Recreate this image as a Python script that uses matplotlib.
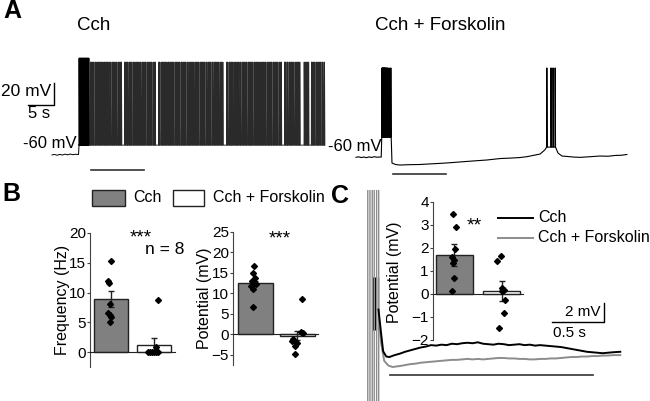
import matplotlib
matplotlib.use('Agg')
import matplotlib.pyplot as plt
from matplotlib.patches import Rectangle
from matplotlib.lines import Line2D

plt.rcParams['font.family'] = ['Liberation Sans', 'DejaVu Sans']

# ---------------- data ----------------
# A, left: Cch trace (time in s, membrane potential in mV)
cch_pre_t = [0.0, 0.5, 1.0, 1.5, 2.0, 2.5, 3.0, 3.5, 4.0, 4.5, 5.1]
cch_pre_v = [-60.4, -60.0, -60.7, -59.9, -60.5, -59.7, -60.3, -59.6, -60.2, -59.8, -60.0]
cch_burst_t = [5.25, 5.4, 5.55, 5.7, 5.85, 6.0, 6.15, 6.3, 6.45, 6.6, 6.75, 6.9, 7.05]
cch_spike_t = [
    7.4, 7.6, 7.85, 8.0, 8.3, 8.45, 8.7, 8.95, 9.1, 9.4,
    9.55, 9.8, 10.05, 10.2, 10.5, 10.7, 10.85, 11.15, 11.3, 11.6,
    11.8, 12.0, 12.3, 12.45, 12.75, 12.95, 13.2, 13.35, 14.0, 14.2,
    14.45, 14.6, 14.9, 15.1, 15.3, 15.6, 15.75, 16.0, 16.25, 16.4,
    16.7, 16.9, 17.1, 17.4, 17.55, 17.85, 18.0, 18.3, 18.5, 18.7,
    19.0, 19.15, 19.45, 19.65, 19.85, 20.55, 20.7, 21.0, 21.2, 21.4,
    21.7, 21.85, 22.1, 22.35, 22.5, 22.8, 23.0, 23.25, 23.4, 23.7,
    23.9, 24.1, 24.4, 24.55, 24.85, 25.0, 25.3, 25.5, 25.7, 26.0,
    26.15, 26.45, 26.6, 26.9, 27.1, 27.3, 27.6, 27.75, 28.05, 28.2,
    28.5, 28.7, 28.9, 29.2, 29.35, 29.65, 29.8, 30.1, 30.3, 30.5,
    30.8, 30.95, 31.25, 31.4, 31.7, 31.9, 32.1, 32.4, 32.55, 32.85,
    33.6, 33.8, 34.1, 34.25, 34.55, 34.7, 35.0, 35.2, 35.4, 35.7,
    35.85, 36.15, 36.3, 36.6, 36.8, 37.0, 37.3, 37.45, 37.75, 37.9,
    38.2, 38.4, 38.6, 38.9, 39.05, 39.35, 39.5, 39.8, 40.0, 40.2,
    40.5, 40.65, 40.95, 41.1, 41.4, 41.6, 41.8, 42.1, 42.25, 42.55,
    42.7, 43.0, 43.2, 43.4, 43.7, 43.85, 44.1, 44.75, 44.9, 45.2,
    45.35, 45.65, 45.8, 46.1, 46.3, 46.5, 46.8, 46.95, 47.25, 47.45,
    47.65, 48.5, 48.7, 48.95, 49.15, 49.35, 49.9, 50.05, 50.35, 50.5,
    50.8, 51.0, 51.2, 51.5, 51.65, 51.95, 52.1, 52.4,
]
cch_burst_peak, cch_peak, cch_trough = 27.5, 24.0, -51.5
cch_stim = [7.5, 17.7]

# A, right: Cch + Forskolin trace
fsk_pre_t = [0.0, 0.5, 1.0, 1.5, 2.0, 2.5, 3.0, 3.5, 4.0, 4.5, 4.85]
fsk_pre_v = [-60.3, -59.8, -60.5, -60.0, -60.6, -59.9, -60.4, -59.7, -60.2, -60.0, -60.1]
fsk_burst1_t = [5.0, 5.12, 5.24, 5.36, 5.48, 5.6, 5.75, 5.9, 6.05, 6.35, 6.7]
fsk_mid_t = [6.92, 7.6, 8.46, 10.0, 12.3, 14.5, 16.5, 18.65, 20.5, 22.8, 25.2,
             27.7, 29.6, 31.5, 33.0, 34.0, 35.4, 36.3]
fsk_mid_v = [-65.5, -66.8, -67.3, -67.0, -66.8, -66.2, -65.7, -65.0, -64.3, -63.5, -62.7,
             -61.4, -61.0, -60.5, -59.6, -58.6, -57.3, -53.6]
fsk_burst2_t = [36.7, 37.5, 37.9, 38.3]
fsk_post_t = [38.85, 39.6, 40.6, 42.0, 43.1, 44.8, 46.9, 48.5, 49.8, 51.0, 52.1]
fsk_post_v = [-56.4, -59.1, -59.5, -60.1, -60.3, -59.8, -59.1, -59.3, -58.6, -58.4, -57.7]
fsk_peak, fsk_plateau = 21.0, -42.0
fsk_stim = [7.1, 17.3]

# B: group data (n = 8)
freq_mean = [8.9, 1.2]
freq_sem = [1.3, 1.1]
freq_cch = [15.3, 11.9, 11.6, 8.1, 6.5, 6.2, 5.9, 5.0]
freq_cch_x = [0.0, -0.07, -0.05, -0.03, -0.06, -0.03, 0.01, -0.02]
freq_fsk = [8.7, 0.9, 0.0, 0.0, 0.0, 0.0, 0.0, 0.0]
freq_fsk_x = [1.09, 1.05, 0.86, 0.91, 0.96, 1.01, 1.05, 1.09]

pot_mean = [12.6, -0.3]
pot_sem = [0.5, 1.2]
pot_cch = [16.7, 14.9, 13.7, 13.0, 12.2, 11.8, 11.1, 6.7]
pot_cch_x = [-0.03, -0.05, -0.01, -0.09, 0.02, -0.1, -0.05, -0.06]
pot_fsk = [8.5, 0.6, 0.2, -1.2, -1.6, -2.2, -2.9, -4.9]
pot_fsk_x = [1.1, 1.08, 1.13, 0.9, 0.88, 0.98, 0.95, 0.93]

# C: averaged traces after the stimulus (time in s, mV relative)
c_cch_t = [-0.005, 0.02, 0.04, 0.07, 0.1, 0.15, 0.2, 0.25, 0.3, 0.35, 0.4, 0.45, 0.5,
           0.55, 0.6, 0.65, 0.7, 0.75, 0.8, 0.85, 0.9, 0.95, 1.0, 1.05, 1.1, 1.15,
           1.2, 1.25, 1.3, 1.35, 1.4, 1.45, 1.5, 1.55, 1.6, 1.65, 1.7, 1.75, 1.8,
           1.85, 1.9, 1.95, 2.0, 2.05, 2.1, 2.15, 2.2, 2.25, 2.32]
c_cch_v = [5.0, 2.5, 0.6, 0.05, 0.0, 0.2, 0.35, 0.55, 0.7, 0.85, 1.0, 1.1, 1.25,
           1.2, 1.3, 1.25, 1.4, 1.35, 1.45, 1.5, 1.45, 1.55, 1.4, 1.35, 1.3, 1.4,
           1.35, 1.25, 1.3, 1.35, 1.25, 1.3, 1.2, 1.25, 1.2, 1.15, 1.1, 1.05, 0.95,
           0.85, 0.75, 0.65, 0.55, 0.5, 0.45, 0.4, 0.45, 0.5, 0.55]
c_fsk_t = [0.0, 0.02, 0.05, 0.09, 0.13, 0.2, 0.25, 0.3, 0.35, 0.4, 0.45, 0.5, 0.55,
           0.6, 0.65, 0.7, 0.75, 0.8, 0.85, 0.9, 0.95, 1.0, 1.05, 1.1, 1.15, 1.2,
           1.25, 1.3, 1.35, 1.4, 1.45, 1.5, 1.55, 1.6, 1.65, 1.7, 1.75, 1.8, 1.85,
           1.9, 1.95, 2.0, 2.05, 2.1, 2.15, 2.2, 2.25, 2.32]
c_fsk_v = [4.0, 1.5, -0.4, -0.9, -1.05, -0.95, -0.85, -0.75, -0.7, -0.6, -0.55, -0.5,
           -0.45, -0.4, -0.35, -0.3, -0.3, -0.25, -0.2, -0.25, -0.2, -0.25, -0.2, -0.15,
           -0.1, -0.1, -0.15, -0.15, -0.2, -0.2, -0.25, -0.25, -0.2, -0.2, -0.15, -0.15,
           -0.1, -0.05, 0.0, 0.0, 0.05, 0.05, 0.1, 0.1, 0.15, 0.15, 0.2, 0.2]
c_fsk_spike_t = [-0.108, -0.087, -0.065, -0.046, -0.023, -0.003]
c_cch_spike_t = [-0.055, -0.034, -0.013]
c_stim = [0.106, 2.06]

amp_mean = [1.68, 0.1]
amp_sem = [0.47, 0.43]
amp_cch = [3.44, 2.88, 1.94, 1.6, 1.47, 1.34, 0.66, 0.11]
amp_cch_x = [-0.03, 0.03, 0.02, -0.05, 0.0, -0.03, -0.02, -0.05]
amp_fsk = [1.63, 1.43, 0.23, 0.15, 0.1, -0.28, -0.86, -1.51]
amp_fsk_x = [0.98, 0.9, 1.0, 1.05, 1.02, 1.08, 1.06, 0.95]

bar_labels = ['Cch', 'Cch + Forskolin']
bar_colors = ['#808080', 'white']

# ---------------- helpers ----------------
W, H = 650, 401


def rect(x0, y0, x1, y1):
    return [x0 / W, 1 - y1 / H, (x1 - x0) / W, (y1 - y0) / H]


def fx(x):
    return x / W


def fy(y):
    return 1 - y / H


def spikes(times, peak, trough):
    xs, ys = [], []
    for t in times:
        xs += [t - 0.03, t, t + 0.07]
        ys += [trough, peak, trough]
    return xs, ys


def bar_panel(ax, means, sems, d0, x0, d1, x1, width, ylim, yticks):
    ax.bar([0, 1], means, width=width, color=bar_colors, edgecolor='#222222',
           linewidth=1.0, zorder=2)
    ax.errorbar([0, 1], means, yerr=sems, fmt='none', ecolor='#222222',
                elinewidth=1.0, capsize=2, capthick=1.0, zorder=3)
    ax.plot(x0, d0, 'D', color='black', ms=3, zorder=4, clip_on=False)
    ax.plot(x1, d1, 'D', color='black', ms=3, zorder=4, clip_on=False)
    ax.set_ylim(*ylim)
    ax.set_yticks(yticks)
    ax.patch.set_alpha(0)
    for s in ['top', 'right']:
        ax.spines[s].set_visible(False)
    ax.spines['bottom'].set_position(('data', 0))
    ax.spines['left'].set_color('#444444')
    ax.spines['bottom'].set_color('#222222')
    ax.set_xticks([])
    ax.tick_params(axis='y', direction='out', length=2, width=0.8,
                   labelsize=11, pad=1, colors='#444444', labelcolor='black')


fig = plt.figure(figsize=(6.5, 4.01), dpi=100)

# ---------------- A: Cch ----------------
ax1 = fig.add_axes(rect(0, 40, 330, 180))
ax1.set_xlim(-10.0, 53.46)
ax1.set_ylim(-83.2, 44.1)
ax1.axis('off')
ax1.plot(cch_pre_t + [5.2], cch_pre_v + [cch_trough], color='black', lw=0.7)
bx, by = spikes(cch_burst_t, cch_burst_peak, cch_trough)
ax1.plot([5.2] + bx, [cch_trough] + by, color='black', lw=1.0)
sx, sy = spikes(cch_spike_t, cch_peak, cch_trough)
ax1.plot(sx, sy, color='#2a2a2a', lw=0.7)
ax1.plot(cch_stim, [-74.0, -74.0], color='#333333', lw=1.2)
# scale bars (5 s, 20 mV)
ax1.plot([-4.6, 0.4, 0.4], [-15.0, -15.0, 5.0], color='black', lw=1.0)

# ---------------- A: Cch + Forskolin ----------------
ax2 = fig.add_axes(rect(330, 40, 650, 180))
ax2.set_xlim(-5.0, 56.54)
ax2.set_ylim(-80.9, 46.4)
ax2.axis('off')
fx1, fy1 = spikes(fsk_burst1_t, fsk_peak, fsk_plateau)
fx2, fy2 = spikes(fsk_burst2_t, fsk_peak, -51.0)
ax2.plot(fsk_pre_t + [4.95] + fx1 + fsk_mid_t + fx2 + fsk_post_t,
         fsk_pre_v + [fsk_plateau] + fy1 + fsk_mid_v + fy2 + fsk_post_v,
         color='black', lw=0.8)
ax2.plot(fsk_stim, [-75.0, -75.0], color='#333333', lw=1.2)

fig.text(fx(77), fy(25), 'Cch', fontsize=13.5, ha='left', va='center')
fig.text(fx(375), fy(25), 'Cch + Forskolin', fontsize=13.5, ha='left', va='center')
fig.text(fx(51), fy(92), '20 mV', fontsize=12.5, ha='right', va='center')
fig.text(fx(39), fy(113), '5 s', fontsize=12, ha='center', va='center')
fig.text(fx(77), fy(144), '-60 mV', fontsize=12, ha='right', va='center')
fig.text(fx(382), fy(147), '-60 mV', fontsize=12, ha='right', va='center')

# ---------------- B ----------------
axf = fig.add_axes(rect(90, 233, 175, 366.9))
axf.set_xlim(-0.49, 1.49)
bar_panel(axf, freq_mean, freq_sem, freq_cch, freq_cch_x, freq_fsk, freq_fsk_x,
          0.79, (-2.5, 20), [0, 5, 10, 15, 20])

axp = fig.add_axes(rect(233, 231.8, 318, 365.05))
axp.set_xlim(-0.536, 1.49)
bar_panel(axp, pot_mean, pot_sem, pot_cch, pot_cch_x, pot_fsk, pot_fsk_x,
          0.83, (-7.5, 25), [-5, 0, 5, 10, 15, 20, 25])

fig.text(fx(62), fy(300), 'Frequency (Hz)', fontsize=11.5, rotation=90,
         ha='center', va='center')
fig.text(fx(205), fy(298), 'Potential (mV)', fontsize=11.5, rotation=90,
         ha='center', va='center')
fig.text(fx(141), fy(238), '***', fontsize=13.5, ha='center', va='center')
fig.text(fx(280), fy(239), '***', fontsize=13.5, ha='center', va='center')
fig.text(fx(145), fy(250), 'n = 8', fontsize=12.5, ha='left', va='center')

# legend of B
fig.add_artist(Rectangle((fx(92), fy(206)), fx(33), 16 / H, transform=fig.transFigure,
                         facecolor=bar_colors[0], edgecolor='#222222', lw=1.0))
fig.add_artist(Rectangle((fx(173), fy(206)), fx(31), 16 / H, transform=fig.transFigure,
                         facecolor=bar_colors[1], edgecolor='#222222', lw=1.0))
fig.text(fx(133), fy(198), bar_labels[0], fontsize=11.5, ha='left', va='center')
fig.text(fx(213), fy(198), bar_labels[1], fontsize=11.5, ha='left', va='center')

# ---------------- C ----------------
axc = fig.add_axes(rect(355, 190, 650, 401))
axc.set_xlim((355 - 379) / 104, (650 - 379) / 104)
axc.set_ylim(-4.63, 17.58)
axc.axis('off')
axc.vlines(c_cch_spike_t, 2.8, 8.4, color='black', lw=1.0)
axc.vlines(c_fsk_spike_t, -10, 30, color='#8c8c8c', lw=1.0, snap=False)
axc.plot(c_fsk_t, c_fsk_v, color='#8c8c8c', lw=1.4)
axc.plot(c_cch_t, c_cch_v, color='black', lw=1.4)
axc.plot(c_stim, [-1.9, -1.9], color='#333333', lw=1.2)
# scale bars (0.5 s, 2 mV)
axc.plot([1.663, 2.163, 2.163], [3.68, 3.68, 5.68], color='black', lw=1.0)

axi = fig.add_axes(rect(433, 201.6, 523, 339.6))
axi.set_xlim(-0.457, 1.457)
bar_panel(axi, amp_mean, amp_sem, amp_cch, amp_cch_x, amp_fsk, amp_fsk_x,
          0.79, (-2, 4), [-2, -1, 0, 1, 2, 3, 4])
fig.text(fx(394), fy(272), 'Potential (mV)', fontsize=11.5, rotation=90,
         ha='center', va='center')
fig.text(fx(474), fy(226), '**', fontsize=14, ha='center', va='center')
fig.text(fx(583), fy(312), '2 mV', fontsize=11, ha='center', va='center')
fig.text(fx(553), fy(333), '0.5 s', fontsize=11, ha='left', va='center')

# legend of C
fig.add_artist(Line2D([fx(498), fx(533)], [fy(218), fy(218)], transform=fig.transFigure,
                      color='black', lw=1.4))
fig.add_artist(Line2D([fx(498), fx(533)], [fy(238), fy(238)], transform=fig.transFigure,
                      color='#8c8c8c', lw=1.4))
fig.text(fx(538), fy(218), bar_labels[0], fontsize=11.5, ha='left', va='center')
fig.text(fx(538), fy(238), bar_labels[1], fontsize=11.5, ha='left', va='center')

# panel letters
fig.text(fx(12), fy(11), 'A', fontsize=18, fontweight='bold', ha='center', va='center')
fig.text(fx(11), fy(194), 'B', fontsize=18, fontweight='bold', ha='center', va='center')
fig.text(fx(340), fy(196), 'C', fontsize=18, fontweight='bold', ha='center', va='center')

fig.savefig('out.png', dpi=100)
